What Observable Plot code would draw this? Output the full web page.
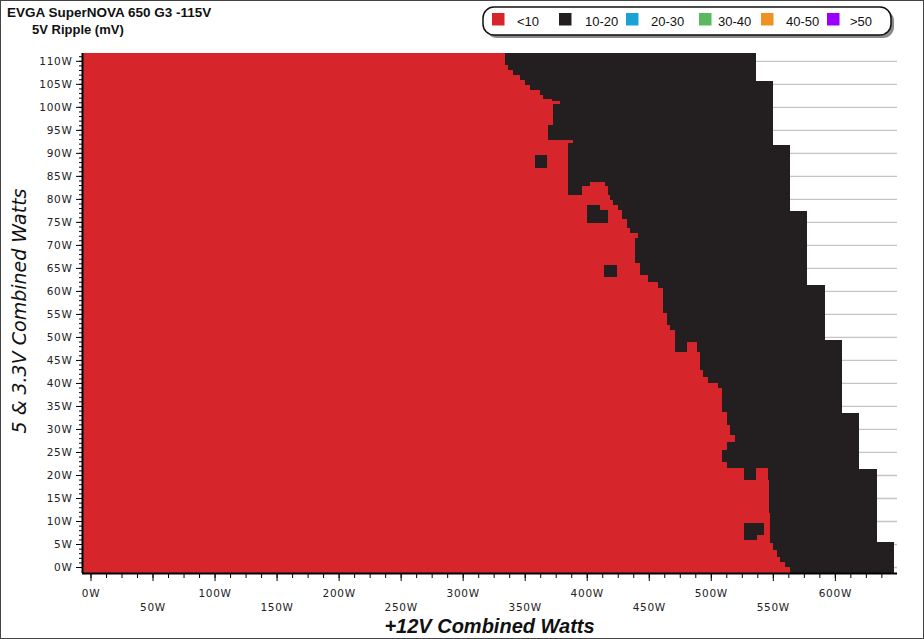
<!DOCTYPE html>
<html>
<head>
<meta charset="utf-8">
<script src="https://cdn.jsdelivr.net/npm/d3@7"></script>
<script src="https://cdn.jsdelivr.net/npm/@observablehq/plot@0.6"></script>
<style>
  body { margin: 0; background: #fff; }
  #wrap { position: relative; width: 924px; height: 639px; overflow: hidden; }
  #wrap > svg { position: absolute; left: 0; top: 0; }
  #chart svg text { letter-spacing: 0.7px; }
  #overlay { pointer-events: none; }
</style>
</head>
<body>
<div id="wrap"><div id="chart"></div></div>
<script>
// ---------- data ----------
const legendLabels = ["<10", "10-20", "20-30", "30-40", "40-50", ">50"];
const legendColors = ["#d7262b", "#231f20", "#1aa1d6", "#5cb85c", "#ef9223", "#9b00ff"];

// scale domains (watts)
const xMin = -6.85, xMax = 650.1;   // +12V combined watts
const yMin = -1.3, yMax = 111.7;    // 5 & 3.3V combined watts

// row edges (5 & 3.3V watts, top to bottom) and where the <10 mV (red) region ends in each row (+12V watts)
const rowEdges = [111.7,109.1,108.0,107.0,105.9,104.8,103.7,102.6,101.7,101.3,100.7,96.1,92.8,92.2,83.7,82.8,80.9,79.8,78.7,77.6,75.7,73.7,72.6,71.5,66.1,63.5,62.0,60.7,55.2,52.6,51.5,48.9,46.7,42.8,41.3,40.0,38.9,33.7,30.9,28.7,27.2,25.4,22.8,21.5,18.9,11.7,5.2,3.7,2.2,1.1,0,-1.3];
const redEnd = [334.1,336.6,340.6,346.2,350.3,354.3,362.3,364.8,372.0,378.5,372.8,368.8,388.9,384.9,414.8,417.2,418.8,421.2,425.2,428.5,432.5,434.9,441.3,438.9,442.9,449.4,457.4,461.5,464.7,467.1,471.2,488.9,491.3,493.8,497.8,505.9,509.1,513.1,515.6,519.6,513.1,509.1,513.1,546.2,547.0,547.8,550.2,553.4,555.8,559.8,563.9];

// 10-20 mV (black) region: step edges and right end of each step
const blackEdges = [111.7,105.7,91.7,77.4,61.3,49.3,33.5,21.3,5.4,-1.3];
const blackEnd = [536.5,550.2,563.9,577.6,592.1,605.8,619.5,634.0,647.7];
const blackStart = 300;

// isolated 10-20 mV cells inside the red region
const spotX1 = [358.3,400.2,410.7,413.9,526.9,526.9,384.9,384.9,471.2,526.9];
const spotX2 = [368.0,410.7,417.2,424.4,542.9,537.3,402.6,396.2,480.9,536.5];
const spotY1 = [86.7,74.8,74.8,63.0,7.0,5.9,82.8,80.9,46.7,18.9];
const spotY2 = [89.6,78.7,77.6,65.7,9.6,7.0,83.7,82.8,48.9,21.5];

// ticks
const yTickValues = [0,5,10,15,20,25,30,35,40,45,50,55,60,65,70,75,80,85,90,95,100,105,110];
const yMinorTicks = d3.range(0, 112, 1);
const xTickTop = [0,100,200,300,400,500,600];
const xTickBottom = [50,150,250,350,450,550];
const xMajorTicks = [0,50,100,150,200,250,300,350,400,450,500,550,600];
const xMinorTicks = d3.range(0, 650, 12.5);

// ---------- build tables ----------
const redRows = redEnd.map((e, i) => ({x1: xMin, x2: e, y1: rowEdges[i + 1], y2: rowEdges[i]}));
const blackRows = blackEnd.map((e, i) => ({x1: blackStart, x2: e, y1: blackEdges[i + 1], y2: blackEdges[i]}));
const spots = spotX1.map((v, i) => ({x1: v, x2: spotX2[i], y1: spotY1[i], y2: spotY2[i]}));

const rectOpts = {x1: "x1", x2: "x2", y1: "y1", y2: "y2", shapeRendering: "crispEdges"};

const chart = Plot.plot({
  width: 924, height: 639,
  marginLeft: 82, marginRight: 27, marginTop: 53, marginBottom: 66,
  x: {domain: [xMin, xMax], axis: null, label: null},
  y: {domain: [yMin, yMax], axis: null, label: null},
  style: {fontFamily: "'DejaVu Sans', Verdana, sans-serif", fontSize: "10.5px", color: "#222", background: "transparent"},
  marks: [
    Plot.ruleY(yTickValues, {x1: xMin, x2: xMax, stroke: "#c4c4c4", strokeWidth: 1.3}),
    Plot.rect(blackRows, {...rectOpts, fill: legendColors[1]}),
    Plot.rect(redRows, {...rectOpts, fill: legendColors[0]}),
    Plot.rect(spots, {...rectOpts, fill: legendColors[1]}),
    Plot.axisY({ticks: yMinorTicks, tickSize: 3, tickFormat: () => "", label: null, stroke: "#000"}),
    Plot.axisY({ticks: yTickValues, tickSize: 6, tickPadding: 4, tickFormat: d => d + "W", label: null, stroke: "#000"}),
    Plot.axisX({ticks: xMinorTicks, tickSize: 5, tickFormat: () => "", label: null, stroke: "#000"}),
    Plot.axisX({ticks: xMajorTicks, tickSize: 8, tickFormat: () => "", label: null, stroke: "#000"}),
    Plot.axisX({ticks: xTickTop, tickSize: 0, tickPadding: 16, tickFormat: d => d + "W", label: null}),
    Plot.axisX({ticks: xTickBottom, tickSize: 0, tickPadding: 30, tickFormat: d => d + "W", label: null}),
    Plot.ruleX([xMin], {stroke: "#000", strokeWidth: 2}),
    Plot.ruleY([yMin], {stroke: "#000", strokeWidth: 2})
  ]
});
document.getElementById("chart").appendChild(chart);

// ---------- overlay: titles, axis titles, legend, border ----------
const ov = d3.select("#wrap").append("svg")
  .attr("id", "overlay").attr("width", 924).attr("height", 639)
  .style("position", "absolute").style("left", 0).style("top", 0);

const sans = "'Liberation Sans', Arial, sans-serif";
ov.append("text").attr("x", 7).attr("y", 17).attr("font-family", sans).attr("font-weight", "bold")
  .attr("font-size", 13.5).attr("fill", "#111").text("EVGA SuperNOVA 650 G3 -115V");
ov.append("text").attr("x", 32).attr("y", 34).attr("font-family", sans).attr("font-weight", "bold")
  .attr("font-size", 13).attr("fill", "#111").text("5V Ripple (mV)");

ov.append("text").attr("x", 489.5).attr("y", 633).attr("text-anchor", "middle")
  .attr("font-family", sans).attr("font-weight", "bold").attr("font-style", "italic")
  .attr("font-size", 20).attr("fill", "#111").text("+12V Combined Watts");
ov.append("text").attr("transform", "translate(26,311) rotate(-90)").attr("text-anchor", "middle")
  .attr("font-family", "'DejaVu Sans', sans-serif").attr("font-style", "italic")
  .attr("font-size", 19).attr("fill", "#111").text("5 & 3.3V Combined Watts");

// legend box
ov.append("rect").attr("x", 486).attr("y", 10).attr("width", 408).attr("height", 28).attr("rx", 11)
  .attr("fill", "#8a8a8a");
ov.append("rect").attr("x", 483).attr("y", 7).attr("width", 408).attr("height", 28).attr("rx", 11)
  .attr("fill", "#fff").attr("stroke", "#111").attr("stroke-width", 1.5);
const swX = [492, 559, 626, 699, 761, 827];
const lbX = [517, 585, 651, 718, 786, 850];
legendLabels.forEach((lab, i) => {
  ov.append("rect").attr("x", swX[i]).attr("y", 13).attr("width", 12.5).attr("height", 12.5).attr("fill", legendColors[i]);
  ov.append("text").attr("x", lbX[i]).attr("y", 26).attr("font-family", sans).attr("font-size", 13)
    .attr("fill", "#111").text(lab);
});

// outer border
ov.append("rect").attr("x", 0.5).attr("y", 0.5).attr("width", 923).attr("height", 638)
  .attr("fill", "none").attr("stroke", "#444").attr("stroke-width", 1);
</script>
</body>
</html>
